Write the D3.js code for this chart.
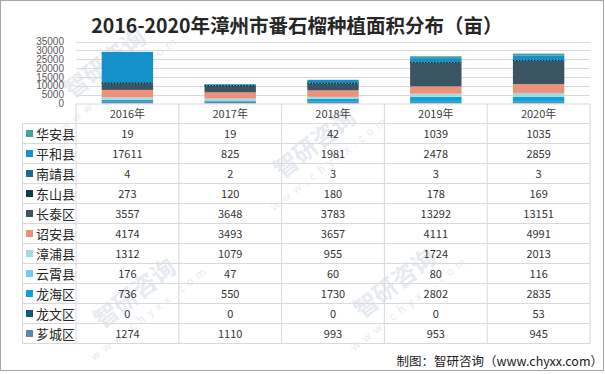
<!DOCTYPE html>
<html><head><meta charset="utf-8">
<script src="https://cdn.jsdelivr.net/npm/d3@7"></script>
<style>
html,body{margin:0;padding:0;background:#fff;}
svg{display:block;font-family:"Noto Sans CJK SC","Noto Sans",sans-serif;}
</style></head>
<body><svg id="c" width="605" height="374"></svg>
<script>
const title = "2016-2020年漳州市番石榴种植面积分布（亩）";
const years = ["2016年","2017年","2018年","2019年","2020年"];
// table order (top to bottom); stacking is the reverse (bottom to top)
const regions = ["华安县","平和县","南靖县","东山县","长泰区","诏安县","漳浦县","云霄县","龙海区","龙文区","芗城区"];
const colors  = ["#42a19c","#1491c9","#136f90","#0e3a4f","#3a5463","#ee917a","#a5dbd6","#6dcdf0","#0ba2dc","#0d5c80","#5a8aa4"];
const v华安县 = [19,19,42,1039,1035];
const v平和县 = [17611,825,1981,2478,2859];
const v南靖县 = [4,2,3,3,3];
const v东山县 = [273,120,180,178,169];
const v长泰区 = [3557,3648,3783,13292,13151];
const v诏安县 = [4174,3493,3657,4111,4991];
const v漳浦县 = [1312,1079,955,1724,2013];
const v云霄县 = [176,47,60,80,116];
const v龙海区 = [736,550,1730,2802,2835];
const v龙文区 = [0,0,0,0,53];
const v芗城区 = [1274,1110,993,953,945];
const yTicks = [0,5000,10000,15000,20000,25000,30000,35000];
const source = "制图：智研咨询（www.chyxx.com）";

const series = {"华安县":v华安县,"平和县":v平和县,"南靖县":v南靖县,"东山县":v东山县,"长泰区":v长泰区,
  "诏安县":v诏安县,"漳浦县":v漳浦县,"云霄县":v云霄县,"龙海区":v龙海区,"龙文区":v龙文区,"芗城区":v芗城区};
const colorOf = d3.scaleOrdinal().domain(regions).range(colors);

const svg = d3.select("#c");

// faint watermarks
const wm = svg.append("g").attr("fill","#e6ebf1");
[[110,70],[140,300],[400,290],[320,150]].forEach(([cx,cy])=>{
  const g = wm.append("g").attr("transform",`translate(${cx},${cy}) rotate(-38)`);
  g.append("text").attr("x",0).attr("y",0).attr("text-anchor","middle").attr("font-size",24).attr("font-weight","bold").text("智研咨询");
  g.append("text").attr("x",0).attr("y",20).attr("text-anchor","middle").attr("font-size",11).attr("letter-spacing",5).text("www.chyxx.com");
});

// border
svg.append("rect").attr("x",0.5).attr("y",0.5).attr("width",603).attr("height",370)
  .attr("fill","none").attr("stroke","#a6a6a6");

// title
svg.append("text").attr("x",297).attr("y",33).attr("text-anchor","middle")
  .attr("font-size",19.5).attr("font-weight","bold").attr("fill","#262626").text(title);

const x = d3.scaleBand().domain(years).range([76,590]).paddingInner(0.5).paddingOuter(0.25);
const y = d3.scaleLinear().domain([0,35000]).range([103.5,41.5]);

// gridlines
svg.append("g").selectAll("line").data(yTicks.slice(1)).join("line")
  .attr("x1",76).attr("x2",590).attr("y1",d=>Math.round(y(d))+0.5).attr("y2",d=>Math.round(y(d))+0.5)
  .attr("stroke","#d9d9d9");

// y axis
const ya = svg.append("g").attr("transform","translate(66,0)")
  .call(d3.axisLeft(y).tickValues(yTicks).tickSize(0).tickPadding(2).tickFormat(d3.format("d")));
ya.select(".domain").remove();
ya.selectAll("text").attr("font-size",10).attr("fill","#595959").attr("font-family","'Liberation Sans',sans-serif");

// stacked bars
const rows = years.map((yr,i)=>{const o={year:yr}; regions.forEach(r=>o[r]=series[r][i]); return o;});
const stackKeys = regions.slice().reverse();
const stacked = d3.stack().keys(stackKeys)(rows);
svg.append("g").selectAll("g").data(stacked).join("g").attr("fill",d=>colorOf(d.key))
  .selectAll("rect").data(d=>d).join("rect")
  .attr("x",d=>x(d.data.year)).attr("width",x.bandwidth())
  .attr("y",d=>y(d[1])).attr("height",d=>Math.max(0,y(d[0])-y(d[1])));
// dotted edge of 东山县 layer
const ds = stacked.find(s=>s.key==="东山县");
svg.append("g").selectAll("line").data(ds).join("line")
  .attr("x1",d=>x(d.data.year)).attr("x2",d=>x(d.data.year)+x.bandwidth())
  .attr("y1",d=>y(d[1])).attr("y2",d=>y(d[1]))
  .attr("stroke","#0b2230").attr("stroke-width",1.2).attr("stroke-dasharray","1.5,1.5");

// data table
const step = x.step();
const tx0 = 76, colEdges = d3.range(6).map(i=>tx0+i*step);
const tTop = 104, headBottom = 123.5, rowH = 20, nRows = regions.length;
const tBottom = headBottom + nRows*rowH;
const tg = svg.append("g").attr("stroke","#d9d9d9").attr("stroke-width",1);
tg.append("line").attr("x1",76).attr("x2",590).attr("y1",tTop).attr("y2",tTop);
d3.range(nRows+1).forEach(i=>{
  const yy = headBottom + i*rowH;
  tg.append("line").attr("x1",22.5).attr("x2",590).attr("y1",yy).attr("y2",yy);
});
tg.append("line").attr("x1",22.5).attr("x2",22.5).attr("y1",headBottom).attr("y2",tBottom);
colEdges.forEach(cx=>tg.append("line").attr("x1",cx).attr("x2",cx).attr("y1",tTop).attr("y2",tBottom));

// header years
svg.append("g").selectAll("text").data(years).join("text")
  .attr("x",d=>x(d)+x.bandwidth()/2).attr("y",118).attr("text-anchor","middle")
  .attr("font-size",11).attr("fill","#404040").text(d=>d);

// legend rows
const lg = svg.append("g").selectAll("g").data(regions).join("g")
  .attr("transform",(d,i)=>`translate(0,${headBottom+i*rowH})`);
lg.append("rect").attr("x",26).attr("y",6.5).attr("width",7).attr("height",7).attr("fill",d=>colorOf(d));
lg.append("text").attr("x",36).attr("y",15).attr("font-size",13).attr("fill","#262626").text(d=>d);
lg.each(function(r){
  d3.select(this).selectAll("text.v").data(series[r]).join("text").attr("class","v")
    .attr("x",(d,i)=>x(years[i])+x.bandwidth()/2).attr("y",14.5).attr("text-anchor","middle")
    .attr("font-size",11).attr("fill","#333").text(d=>d);
});

// source
svg.append("text").attr("x",603).attr("y",366).attr("text-anchor","end")
  .attr("font-size",12.5).attr("fill","#1a1a1a").text(source);
</script></body></html>
